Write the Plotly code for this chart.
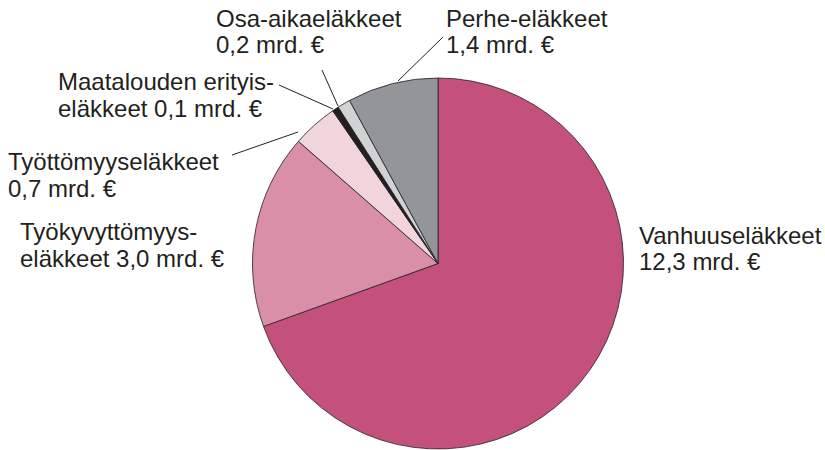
import plotly.graph_objects as go

W, H = 825, 450

categories = ["Vanhuuseläkkeet", "Työkyvyttömyyseläkkeet", "Työttömyyseläkkeet",
              "Maatalouden erityiseläkkeet", "Osa-aikaeläkkeet", "Perhe-eläkkeet"]
values = [12.3, 3.0, 0.7, 0.1, 0.2, 1.4]
colors = ["#c4507c", "#d98fa7", "#f2d4dc", "#231f20", "#d1d2d4", "#939598"]
label_lines = [("Vanhuuseläkkeet", "12,3 mrd. €"),
               ("Työkyvyttömyys-", "eläkkeet 3,0 mrd. €"),
               ("Työttömyyseläkkeet", "0,7 mrd. €"),
               ("Maatalouden erityis-", "eläkkeet 0,1 mrd. €"),
               ("Osa-aikaeläkkeet", "0,2 mrd. €"),
               ("Perhe-eläkkeet", "1,4 mrd. €")]

# label left x and first-line baseline (pixels); leader lines (pixels)
label_pos = [(640, 243.5), (21, 240), (9, 170.5), (59, 90), (217, 26.7), (446.5, 26.7)]
LINE_GAP = 26.5
leaders = [None, None, ((232, 155), (298, 132)), ((279, 85), (333, 109)),
           ((322, 70), (338, 106)), ((443, 37), (398, 81))]

cx, cy, r = 438, 263.5, 185.5

fig = go.Figure(go.Pie(
    labels=categories, values=values, sort=False, direction="clockwise", rotation=0,
    marker=dict(colors=colors, line=dict(color="#231f20", width=0.8)),
    textinfo="none", hoverinfo="label+value", showlegend=False,
    domain=dict(x=[(cx - r) / W, (cx + r) / W], y=[(H - cy - r) / H, (H - cy + r) / H]),
))

fx = lambda x: x / W
fy = lambda y: 1 - y / H

FS = 24
annotations = []
for lines, (x, yb) in zip(label_lines, label_pos):
    for i, line in enumerate(lines):
        base = yb + i * LINE_GAP
        annotations.append(dict(x=fx(x - 3), y=fy(base + 7), xref="paper", yref="paper", text=line,
                                showarrow=False, xanchor="left", yanchor="bottom", align="left",
                                font=dict(family="Liberation Sans, Arial, sans-serif", size=FS,
                                          color="#231f20")))
shapes = []
for ld in leaders:
    if ld:
        (x0, y0), (x1, y1) = ld
        shapes.append(dict(type="line", xref="paper", yref="paper", x0=fx(x0), y0=fy(y0),
                           x1=fx(x1), y1=fy(y1), line=dict(color="#231f20", width=1)))

fig.update_layout(width=W, height=H, margin=dict(l=0, r=0, t=0, b=0),
                  paper_bgcolor="white", plot_bgcolor="white",
                  annotations=annotations, shapes=shapes)
fig.write_html("out.html", config={"displayModeBar": False},
               post_script="document.body.style.margin='0';document.body.style.padding='0';")
